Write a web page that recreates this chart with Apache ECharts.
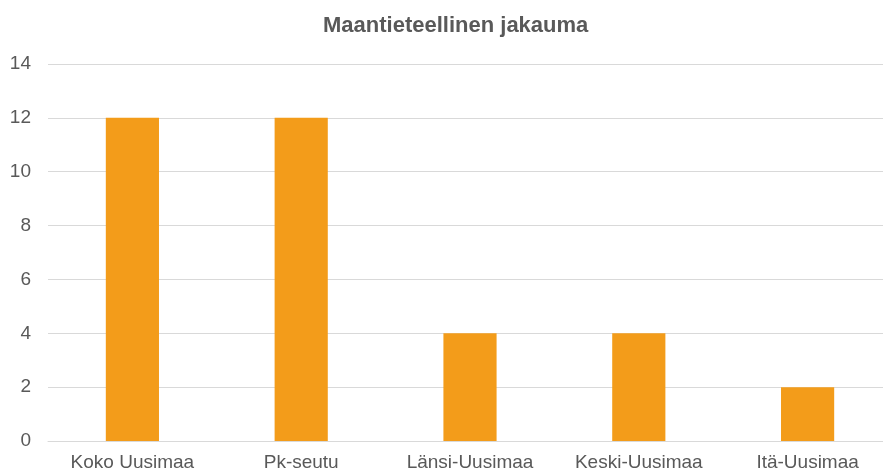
<!DOCTYPE html>
<html>
<head>
<meta charset="utf-8">
<script src="https://cdn.jsdelivr.net/npm/echarts@6/dist/echarts.min.js"></script>
<style>
html, body { margin: 0; padding: 0; background: #fff; }
#main { width: 883px; height: 472px; }
</style>
</head>
<body>
<div id="main"></div>
<script>
var regions = ['Koko Uusimaa', 'Pk-seutu', 'Länsi-Uusimaa', 'Keski-Uusimaa', 'Itä-Uusimaa'];
var counts = [12, 12, 4, 4, 2];

var myChart = echarts.init(document.getElementById('main'));
var option = {
    animation: false,
    title: {
        text: 'Maantieteellinen jakauma',
        left: 318,
        top: 10,
        textStyle: {
            fontFamily: 'Liberation Sans, Arial, sans-serif',
            fontSize: 22,
            fontWeight: 'bold',
            color: '#595959'
        }
    },
    grid: {
        left: 48,
        width: 844,
        top: 64,
        bottom: 31,
        outerBoundsMode: 'none'
    },
    xAxis: {
        type: 'category',
        data: regions,
        axisLine: { lineStyle: { color: '#d9d9d9', width: 1 } },
        axisTick: { show: false },
        axisLabel: {
            color: '#595959',
            fontSize: 19,
            fontFamily: 'Liberation Sans, Arial, sans-serif',
            margin: 12
        }
    },
    yAxis: {
        type: 'value',
        min: 0,
        max: 14,
        interval: 2,
        axisLine: { show: false },
        axisTick: { show: false },
        splitLine: { lineStyle: { color: '#d9d9d9', width: 1 } },
        axisLabel: {
            color: '#595959',
            fontSize: 19,
            fontFamily: 'Liberation Sans, Arial, sans-serif',
            margin: 17
        }
    },
    series: [{
        type: 'bar',
        data: counts,
        barWidth: '31.5%',
        itemStyle: { color: '#F39C1A' }
    }]
};
myChart.setOption(option);
</script>
</body>
</html>
